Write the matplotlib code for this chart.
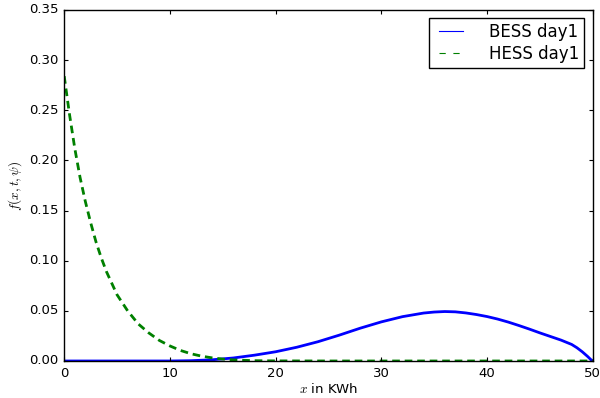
import matplotlib
matplotlib.use("Agg")
import matplotlib.pyplot as plt
from matplotlib.lines import Line2D

plt.style.use('classic')

# battery (BESS) density, day 1
bess_x = [0, 10, 12, 14, 16, 18, 20, 22, 24, 26, 28, 30, 32, 34, 35, 36, 37, 38,
          39, 40, 41, 42, 43, 44, 45, 46, 47, 48, 48.5, 49, 49.5, 49.8, 50]
bess_y = [0.0, 0.0, 0.0003, 0.0012, 0.0030, 0.0058, 0.0092, 0.0137, 0.0192, 0.0257,
          0.0327, 0.0390, 0.0442, 0.0478, 0.0488, 0.0493, 0.0490, 0.0479,
          0.0463, 0.0443, 0.0418, 0.0388, 0.0354, 0.0318, 0.0280, 0.0244,
          0.0208, 0.0165, 0.0132, 0.0092, 0.0046, 0.0015, 0.0]

# hydrogen (HESS) density, day 1
hess_x = [0, 0.5, 1, 1.5, 2, 2.5, 3, 3.5, 4, 5, 6, 7, 8, 9, 10, 11, 12, 13, 14,
          15, 16, 18, 20, 25, 30, 35, 40, 45, 50]
hess_y = [0.284, 0.246, 0.212, 0.183, 0.159, 0.138, 0.119, 0.103, 0.089, 0.066,
          0.050, 0.037, 0.028, 0.0205, 0.0150, 0.0105, 0.0072, 0.0048, 0.0031,
          0.0019, 0.0011, 0.0003, 0.0001, 0.0, 0.0, 0.0, 0.0, 0.0, 0.0]

fig = plt.figure(figsize=(6.0, 3.98), dpi=100, facecolor='white')
ax = fig.add_axes([0.107, 0.093, 0.881, 0.882])

ax.plot(bess_x, bess_y, 'b-', linewidth=2.0)
ax.plot(hess_x, hess_y, 'g--', linewidth=2.0, dashes=(5.5, 3.5))

ax.set_xlim(0, 50)
ax.set_ylim(0, 0.35)
ax.set_yticks([0.0, 0.05, 0.10, 0.15, 0.20, 0.25, 0.30, 0.35])
ax.set_yticklabels(['0.00', '0.05', '0.10', '0.15', '0.20', '0.25', '0.30', '0.35'])
ax.tick_params(labelsize=9.5, length=3, width=0.8)
ax.set_xlabel(r'$x$ in KWh', fontsize=9.5, labelpad=2)
ax.set_ylabel(r'$f(x,t,\psi)$', fontsize=9.5, labelpad=4)

handles = [Line2D([], [], color='b', lw=0.8),
           Line2D([], [], color='g', lw=0.8, ls='--', dashes=(4.5, 5.5))]
ax.legend(handles, ['BESS day1', 'HESS day1'], loc='upper right', fontsize=12,
          handlelength=2.0, handletextpad=1.3, borderpad=0.3, labelspacing=0.2,
          frameon=True)

fig.savefig('out.png', dpi=100, facecolor='white')
